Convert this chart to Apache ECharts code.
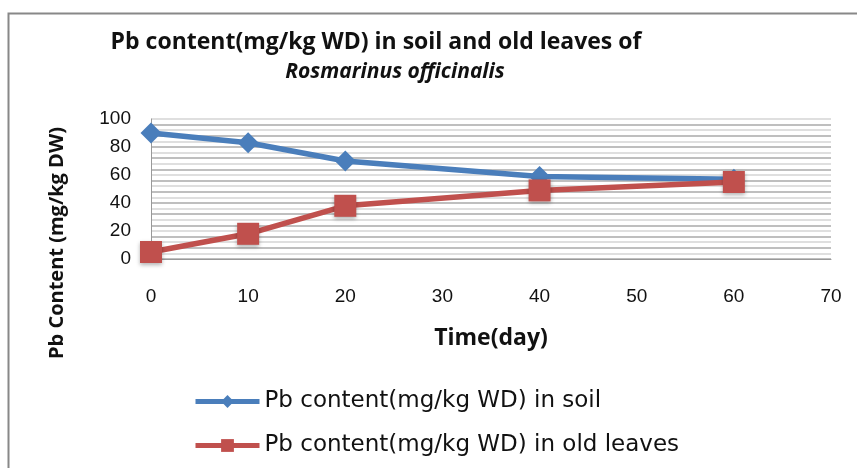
<!DOCTYPE html>
<html><head><meta charset="utf-8">
<script src="https://cdn.jsdelivr.net/npm/echarts@6/dist/echarts.min.js"></script>
<style>html,body{margin:0;padding:0;background:#fff}#c{width:857px;height:468px}</style>
</head><body><div id="c"></div>
<script>
const days = [0, 10, 20, 40, 60];
const soil = [90, 83, 70, 59, 57];
const oldLeaves = [5, 18, 38, 49, 55];
const seriesNames = ['Pb content(mg/kg WD) in soil', 'Pb content(mg/kg WD) in old leaves'];
const titleLine1 = 'Pb content(mg/kg WD) in soil and old leaves of';
const titleLine2 = 'Rosmarinus officinalis';
const xTitle = 'Time(day)';
const yTitle = 'Pb Content (mg/kg DW)';

const chart = echarts.init(document.getElementById('c'));
chart.setOption({
  animation: false,
  backgroundColor: '#fff',
  graphic: [
    {type: 'rect', shape: {x: 8.5, y: 13.5, width: 900, height: 500}, style: {fill: 'none', stroke: '#888', lineWidth: 2}},
    {type: 'text', x: 376, y: 42, style: {text: titleLine1, font: 'bold 23px "Open Sans"', fill: '#111', textAlign: 'center', textVerticalAlign: 'middle'}},
    {type: 'text', x: 395, y: 72, style: {text: titleLine2, font: 'italic bold 21px "Open Sans"', fill: '#111', textAlign: 'center', textVerticalAlign: 'middle'}},
    {type: 'text', x: 57, y: 243, rotation: Math.PI / 2, style: {text: yTitle, font: 'bold 20px "Open Sans"', fill: '#111', textAlign: 'center', textVerticalAlign: 'middle'}}
  ],
  grid: {left: 151, right: 26, top: 119, bottom: 209, containLabel: false},
  legend: {
    orient: 'vertical', left: 188, top: 385, itemWidth: 64, itemHeight: 16, itemGap: 21,
    textStyle: {fontFamily: 'DejaVu Sans', fontSize: 23, color: '#111'},
    lineStyle: {width: 5},
    data: seriesNames
  },
  xAxis: {
    type: 'value', min: 0, max: 70, interval: 10,
    name: xTitle, nameLocation: 'middle', nameGap: 68,
    nameTextStyle: {fontFamily: 'Open Sans', fontWeight: 'bold', fontSize: 23, color: '#111'},
    axisLine: {show: true, lineStyle: {color: '#999', width: 1}},
    axisTick: {show: false},
    axisLabel: {margin: 28, fontFamily: 'Liberation Sans', fontSize: 19, color: '#111'},
    splitLine: {show: false}
  },
  yAxis: {
    type: 'value', min: 0, max: 100, interval: 4,
    axisLine: {show: true, lineStyle: {color: '#999', width: 1}},
    axisTick: {show: false},
    axisLabel: {margin: 20, fontFamily: 'Liberation Sans', fontSize: 19, color: '#111',
      formatter: v => (v % 20 === 0 ? String(v) : '')},
    splitLine: {show: true, lineStyle: {color: ['#aaaaaa', '#d4d4d4'], width: 1.5}}
  },
  series: [
    {name: seriesNames[0], type: 'line', data: days.map((d, i) => [d, soil[i]]),
      symbol: 'diamond', symbolSize: 21, lineStyle: {width: 5.5, color: '#4a7ebb'},
      itemStyle: {color: '#4a7ebb'}, z: 2},
    {name: seriesNames[1], type: 'line', data: days.map((d, i) => [d, oldLeaves[i]]),
      symbol: 'rect', symbolSize: 22, lineStyle: {width: 5.5, color: '#c0504d'},
      itemStyle: {color: '#c0504d', shadowColor: 'rgba(0,0,0,0.3)', shadowBlur: 4, shadowOffsetY: 2}, z: 3}
  ]
});
</script></body></html>
